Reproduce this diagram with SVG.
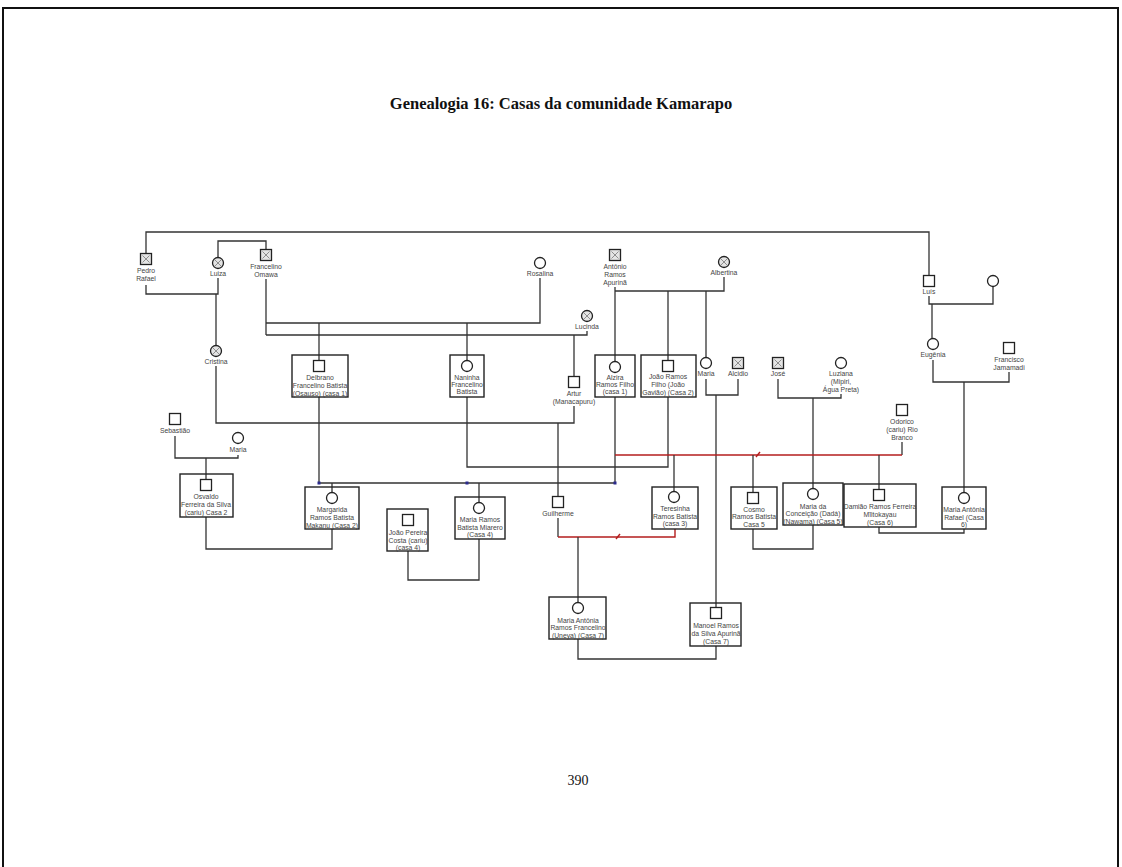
<svg xmlns="http://www.w3.org/2000/svg" width="1122" height="867" viewBox="0 0 1122 867">
<style>
.ln{fill:none;stroke:#333;stroke-width:1.3}
.red{fill:none;stroke:#b41e1e;stroke-width:1.4}
.box{fill:none;stroke:#222;stroke-width:1.4}
.sym{fill:#fff;stroke:#222;stroke-width:1.3}
.dec{fill:#e4e4e4;stroke:#222;stroke-width:1.3}
.x{stroke:#777;stroke-width:0.8}
.t{font-family:"Liberation Sans",Arial,sans-serif;font-size:6.8px;fill:#444;text-anchor:middle}
.title{font-family:"Liberation Serif","Times New Roman",serif;font-size:16.5px;font-weight:bold;fill:#111;text-anchor:middle}
.pg{font-family:"Liberation Serif","Times New Roman",serif;font-size:14px;fill:#111;text-anchor:middle}
.dot{fill:#2b2b8c}
</style>
<rect x="0" y="0" width="1122" height="867" fill="#fff"/>
<rect x="3" y="8" width="1115" height="900" fill="none" stroke="#111" stroke-width="2"/>
<text class="title" x="561" y="109">Genealogia 16: Casas da comunidade Kamarapo</text>
<text class="pg" x="578" y="785">390</text>

<g id="connectors">
<path class="ln" d="M146,253.5 V232 H929 V275.5"/>
<path class="ln" d="M146,285 V294 H218 V278"/>
<path class="ln" d="M216,294 V345.5"/>
<path class="ln" d="M218,257.5 V241 H266 V249.5"/>
<path class="ln" d="M266,279 V335"/>
<path class="ln" d="M266,323 H540 V278"/>
<path class="ln" d="M266,335 H587 V331"/>
<path class="ln" d="M319,323 V360.5"/>
<path class="ln" d="M467,323 V360.5"/>
<path class="ln" d="M574,335 V376.5"/>
<path class="ln" d="M216,366 V423 H574 V406"/>
<path class="ln" d="M558,423 V496.5"/>
<path class="ln" d="M615,287 V361.5"/>
<path class="ln" d="M615,291 H724 V277"/>
<path class="ln" d="M668,291 V360.5"/>
<path class="ln" d="M706,291 V357.5"/>
<path class="ln" d="M706,379 V395 H738 V379"/>
<path class="ln" d="M716,395 V607.5"/>
<path class="ln" d="M778,379 V398 H841 V394"/>
<path class="ln" d="M813,398 V488.5"/>
<path class="ln" d="M929,296 V304 H993 V286.5"/>
<path class="ln" d="M932,304 V338.5"/>
<path class="ln" d="M933,360 V382 H1009 V372"/>
<path class="ln" d="M964,382 V492.5"/>
<path class="ln" d="M175,436 V458 H238 V455"/>
<path class="ln" d="M206,458 V479.5"/>
<path class="ln" d="M319,397 V483 H615 V397"/>
<path class="ln" d="M332,483 V492.5"/>
<path class="ln" d="M479,483 V502.5"/>
<path class="ln" d="M467,397 V467 H668 V397"/>
<path class="ln" d="M902,442 V455"/>
<path class="red" d="M615,455 H902"/>
<path class="ln" d="M674,455 V491.5"/>
<path class="ln" d="M753,455 V492.5"/>
<path class="ln" d="M879,455 V489.5"/>
<path class="ln" d="M558,518 V537"/>
<path class="red" d="M558,537 H675 V529"/>
<path class="ln" d="M578,537 V602.5"/>
<path class="ln" d="M206,517 V549 H332 V529"/>
<path class="ln" d="M408,551 V580 H479 V539"/>
<path class="ln" d="M753,529 V549 H813 V525"/>
<path class="ln" d="M879,527 V533 H964 V529"/>
<path class="ln" d="M578,639 V659 H716 V646"/>
<path class="red" d="M756,457 L760,452"/>
<path class="red" d="M616,539 L620,534"/>
<rect class="dot" x="317.5" y="481.5" width="3" height="3"/>
<rect class="dot" x="465.5" y="481.5" width="3" height="3"/>
<rect class="dot" x="613.5" y="481.5" width="3" height="3"/>
</g>

<g id="pedro">
<rect class="dec" x="140.5" y="253.5" width="11" height="11"/>
<path class="x" d="M142.5,255.5 L149.5,262.5 M149.5,255.5 L142.5,262.5"/>
<text class="t" x="146" y="273">Pedro</text><text class="t" x="146" y="281">Rafael</text>
</g>
<g id="luiza">
<circle class="dec" cx="218" cy="263" r="5.5"/>
<path class="x" d="M215,260 L221,266 M221,260 L215,266"/>
<text class="t" x="218" y="276">Luiza</text>
</g>
<g id="francelino">
<rect class="dec" x="260.5" y="249.5" width="11" height="11"/>
<path class="x" d="M262.5,251.5 L269.5,258.5 M269.5,251.5 L262.5,258.5"/>
<text class="t" x="266" y="269">Francelino</text><text class="t" x="266" y="277">Omawa</text>
</g>
<g id="rosalina">
<circle class="sym" cx="540" cy="263" r="5.5"/>
<text class="t" x="540" y="276">Rosalina</text>
</g>
<g id="antonio">
<rect class="dec" x="609.5" y="249.5" width="11" height="11"/>
<path class="x" d="M611.5,251.5 L618.5,258.5 M618.5,251.5 L611.5,258.5"/>
<text class="t" x="615" y="269">Antônio</text><text class="t" x="615" y="277">Ramos</text><text class="t" x="615" y="285">Apurinã</text>
</g>
<g id="albertina">
<circle class="dec" cx="724" cy="262" r="5.5"/>
<path class="x" d="M721,259 L727,265 M727,259 L721,265"/>
<text class="t" x="724" y="275">Albertina</text>
</g>
<g id="luis">
<rect class="sym" x="923.5" y="275.5" width="11" height="11"/>
<text class="t" x="929" y="294">Luís</text>
</g>
<g id="esposa-luis">
<circle class="sym" cx="993" cy="281" r="5.5"/>
</g>
<g id="lucinda">
<circle class="dec" cx="587" cy="316" r="5.5"/>
<path class="x" d="M584,313 L590,319 M590,313 L584,319"/>
<text class="t" x="587" y="329">Lucinda</text>
</g>
<g id="cristina">
<circle class="dec" cx="216" cy="351" r="5.5"/>
<path class="x" d="M213,348 L219,354 M219,348 L213,354"/>
<text class="t" x="216" y="364">Cristina</text>
</g>
<g id="eugenia">
<circle class="sym" cx="933" cy="344" r="5.5"/>
<text class="t" x="933" y="357">Eugênia</text>
</g>
<g id="francisco">
<rect class="sym" x="1003.5" y="342.5" width="11" height="11"/>
<text class="t" x="1009" y="362">Francisco</text><text class="t" x="1009" y="370">Jamamadi</text>
</g>
<g id="delbrano">
<rect class="box" x="292" y="355" width="56" height="42"/>
<rect class="sym" x="313.5" y="360.5" width="11" height="11"/>
<text class="t" x="320" y="380">Delbrano</text><text class="t" x="320" y="388">Francelino Batista</text><text class="t" x="320" y="396">(Osauso) (casa 1)</text>
</g>
<g id="naninha">
<rect class="box" x="450" y="355" width="34" height="42"/>
<circle class="sym" cx="467" cy="366" r="5.5"/>
<text class="t" x="467" y="380">Naninha</text><text class="t" x="467" y="387">Francelino</text><text class="t" x="467" y="394">Batista</text>
</g>
<g id="artur">
<rect class="sym" x="568.5" y="376.5" width="11" height="11"/>
<text class="t" x="574" y="396">Artur</text><text class="t" x="574" y="404">(Manacapuru)</text>
</g>
<g id="alzira">
<rect class="box" x="595" y="355" width="40" height="42"/>
<circle class="sym" cx="615" cy="367" r="5.5"/>
<text class="t" x="615" y="380">Alzira</text><text class="t" x="615" y="387">Ramos Filho</text><text class="t" x="615" y="394">(casa 1)</text>
</g>
<g id="joao-ramos">
<rect class="box" x="641" y="355" width="55" height="42"/>
<rect class="sym" x="662.5" y="360.5" width="11" height="11"/>
<text class="t" x="668" y="379">João Ramos</text><text class="t" x="668" y="387">Filho (João</text><text class="t" x="668" y="395">Gavião) (Casa 2)</text>
</g>
<g id="maria-apurina">
<circle class="sym" cx="706" cy="363" r="5.5"/>
<text class="t" x="706" y="376">Maria</text>
</g>
<g id="alcidio">
<rect class="dec" x="732.5" y="357.5" width="11" height="11"/>
<path class="x" d="M734.5,359.5 L741.5,366.5 M741.5,359.5 L734.5,366.5"/>
<text class="t" x="738" y="376">Alcidio</text>
</g>
<g id="jose">
<rect class="dec" x="772.5" y="357.5" width="11" height="11"/>
<path class="x" d="M774.5,359.5 L781.5,366.5 M781.5,359.5 L774.5,366.5"/>
<text class="t" x="778" y="376">José</text>
</g>
<g id="luziana">
<circle class="sym" cx="841" cy="363" r="5.5"/>
<text class="t" x="841" y="376">Luziana</text><text class="t" x="841" y="384">(Mipiri,</text><text class="t" x="841" y="392">Água Preta)</text>
</g>
<g id="odorico">
<rect class="sym" x="896.5" y="404.5" width="11" height="11"/>
<text class="t" x="902" y="424">Odorico</text><text class="t" x="902" y="432">(cariu) Rio</text><text class="t" x="902" y="440">Branco</text>
</g>
<g id="sebastiao">
<rect class="sym" x="169.5" y="413.5" width="11" height="11"/>
<text class="t" x="175" y="433">Sebastião</text>
</g>
<g id="maria-sebastiao">
<circle class="sym" cx="238" cy="438" r="5.5"/>
<text class="t" x="238" y="452">Maria</text>
</g>
<g id="osvaldo">
<rect class="box" x="180" y="474" width="53" height="43"/>
<rect class="sym" x="200.5" y="479.5" width="11" height="11"/>
<text class="t" x="206" y="499">Osvaldo</text><text class="t" x="206" y="507">Ferreira da Silva</text><text class="t" x="206" y="515">(cariu) Casa 2</text>
</g>
<g id="margarida">
<rect class="box" x="305" y="487" width="54" height="42"/>
<circle class="sym" cx="332" cy="498" r="5.5"/>
<text class="t" x="332" y="512">Margarida</text><text class="t" x="332" y="520">Ramos Batista</text><text class="t" x="332" y="528">Makanu (Casa 2)</text>
</g>
<g id="joao-pereira">
<rect class="box" x="387" y="509" width="41" height="42"/>
<rect class="sym" x="402.5" y="514.5" width="11" height="11"/>
<text class="t" x="408" y="535">João Pereira</text><text class="t" x="408" y="543">Costa (cariu)</text><text class="t" x="408" y="550">(casa 4)</text>
</g>
<g id="maria-ramos">
<rect class="box" x="455" y="497" width="50" height="42"/>
<circle class="sym" cx="479" cy="508" r="5.5"/>
<text class="t" x="480" y="522">Maria Ramos</text><text class="t" x="480" y="530">Batista  Miarero</text><text class="t" x="480" y="537">(Casa 4)</text>
</g>
<g id="guilherme">
<rect class="sym" x="552.5" y="496.5" width="11" height="11"/>
<text class="t" x="558" y="516">Guilherme</text>
</g>
<g id="teresinha">
<rect class="box" x="652" y="487" width="46" height="42"/>
<circle class="sym" cx="674" cy="497" r="5.5"/>
<text class="t" x="675" y="511">Teresinha</text><text class="t" x="675" y="519">Ramos Batista</text><text class="t" x="675" y="526">(casa 3)</text>
</g>
<g id="cosmo">
<rect class="box" x="731" y="487" width="46" height="42"/>
<rect class="sym" x="747.5" y="492.5" width="11" height="11"/>
<text class="t" x="754" y="512">Cosmo</text><text class="t" x="754" y="519">Ramos Batista</text><text class="t" x="754" y="527">Casa 5</text>
</g>
<g id="maria-conceicao">
<rect class="box" x="783" y="483" width="60" height="42"/>
<circle class="sym" cx="813" cy="494" r="5.5"/>
<text class="t" x="813" y="509">Maria da</text><text class="t" x="813" y="516">Conceição (Dadá)</text><text class="t" x="813" y="524">(Nawama) (Casa 5)</text>
</g>
<g id="damiao">
<rect class="box" x="844" y="484" width="72" height="43"/>
<rect class="sym" x="873.5" y="489.5" width="11" height="11"/>
<text class="t" x="880" y="509">Damião Ramos Ferreira</text><text class="t" x="880" y="517">Mĩitokayau</text><text class="t" x="880" y="525">(Casa 6)</text>
</g>
<g id="maria-antonia-rafael">
<rect class="box" x="942" y="487" width="44" height="42"/>
<circle class="sym" cx="964" cy="498" r="5.5"/>
<text class="t" x="964" y="512">Maria Antônia</text><text class="t" x="964" y="520">Rafael (Casa</text><text class="t" x="964" y="527">6)</text>
</g>
<g id="maria-antonia-francelino">
<rect class="box" x="549" y="597" width="57" height="42"/>
<circle class="sym" cx="578" cy="608" r="5.5"/>
<text class="t" x="578" y="623">Maria Antônia</text><text class="t" x="578" y="630">Ramos Francelino</text><text class="t" x="578" y="638">(Uneya) (Casa 7)</text>
</g>
<g id="manoel">
<rect class="box" x="690" y="603" width="51" height="43"/>
<rect class="sym" x="710.5" y="607.5" width="11" height="11"/>
<text class="t" x="716" y="628">Manoel Ramos</text><text class="t" x="716" y="636">da Silva Apurinã</text><text class="t" x="716" y="644">(Casa 7)</text>
</g>
</svg>
